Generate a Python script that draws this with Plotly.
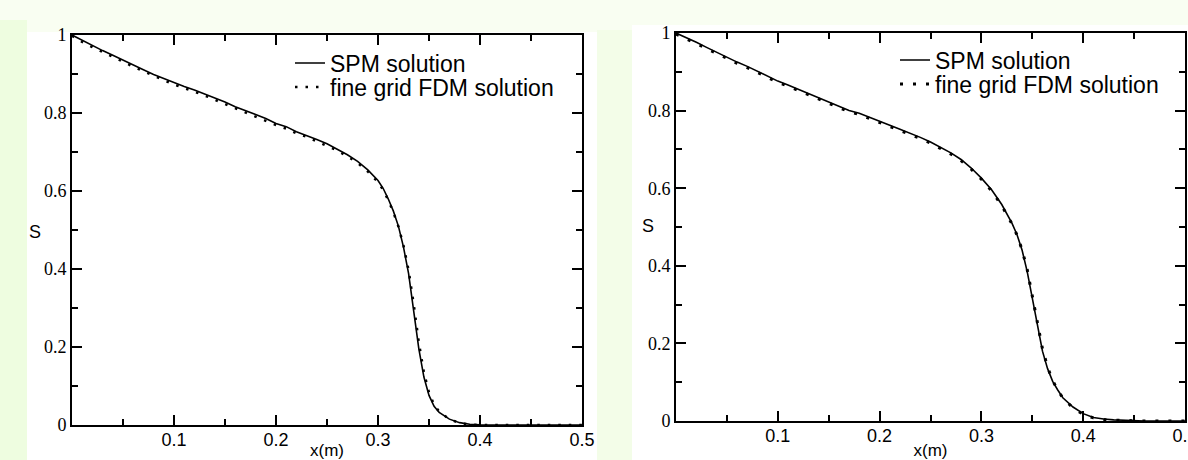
import plotly.graph_objects as go

# ---------------- data ----------------
x_left = [0.00, 0.01, 0.02, 0.03, 0.04, 0.05, 0.06, 0.07, 0.08, 0.09,
          0.10, 0.11, 0.12, 0.13, 0.14, 0.15, 0.16, 0.17, 0.18, 0.19,
          0.20, 0.21, 0.22, 0.23, 0.24, 0.25, 0.26, 0.27, 0.28, 0.29,
          0.30, 0.305, 0.31, 0.315, 0.32, 0.325, 0.33, 0.335, 0.34, 0.345,
          0.35, 0.355, 0.36, 0.37, 0.38, 0.39, 0.40, 0.42, 0.44, 0.46, 0.48, 0.50]
spm_left = [1.000, 0.986, 0.973, 0.960, 0.948, 0.935, 0.923, 0.911, 0.899, 0.888,
            0.877, 0.868, 0.859, 0.849, 0.838, 0.828, 0.816, 0.806, 0.795, 0.786,
            0.773, 0.765, 0.752, 0.743, 0.732, 0.721, 0.708, 0.693, 0.676, 0.654,
            0.627, 0.607, 0.580, 0.549, 0.510, 0.456, 0.388, 0.295, 0.196, 0.123,
            0.076, 0.048, 0.032, 0.015, 0.006, 0.002, 0.0005, 0.0, 0.0, 0.0, 0.0, 0.0]
fdm_left = [0.998, 0.982, 0.969, 0.956, 0.944, 0.931, 0.919, 0.907, 0.895, 0.884,
            0.873, 0.864, 0.855, 0.845, 0.834, 0.823, 0.812, 0.802, 0.791, 0.781,
            0.769, 0.760, 0.748, 0.739, 0.728, 0.717, 0.704, 0.689, 0.672, 0.650,
            0.623, 0.603, 0.577, 0.546, 0.509, 0.460, 0.397, 0.310, 0.212, 0.135,
            0.083, 0.052, 0.034, 0.015, 0.005, 0.001, 0.0, 0.0, 0.0, 0.0, 0.0, 0.0]

x_right = [0.00, 0.01, 0.02, 0.03, 0.04, 0.05, 0.06, 0.07, 0.08, 0.09,
           0.10, 0.11, 0.12, 0.13, 0.14, 0.15, 0.16, 0.17, 0.18, 0.19,
           0.20, 0.21, 0.22, 0.23, 0.24, 0.25, 0.26, 0.27, 0.28, 0.29,
           0.30, 0.31, 0.32, 0.33, 0.335, 0.34, 0.345, 0.35, 0.355, 0.36,
           0.365, 0.37, 0.375, 0.38, 0.39, 0.40, 0.41, 0.42, 0.43, 0.44,
           0.45, 0.46, 0.48, 0.50]
spm_right = [1.000, 0.989, 0.976, 0.963, 0.950, 0.939, 0.925, 0.914, 0.901, 0.890,
             0.876, 0.866, 0.855, 0.842, 0.831, 0.820, 0.810, 0.800, 0.793, 0.782,
             0.771, 0.762, 0.752, 0.742, 0.731, 0.719, 0.706, 0.691, 0.674, 0.652,
             0.626, 0.596, 0.558, 0.510, 0.480, 0.440, 0.385, 0.315, 0.245, 0.180,
             0.135, 0.102, 0.080, 0.060, 0.036, 0.019, 0.009, 0.005, 0.003, 0.0015,
             0.0005, 0.0, 0.0, 0.0]
fdm_right = [0.997, 0.986, 0.973, 0.960, 0.947, 0.936, 0.922, 0.911, 0.898, 0.887,
             0.873, 0.863, 0.852, 0.839, 0.828, 0.817, 0.807, 0.797, 0.790, 0.779,
             0.768, 0.759, 0.749, 0.739, 0.728, 0.716, 0.703, 0.688, 0.671, 0.649,
             0.623, 0.593, 0.555, 0.508, 0.479, 0.441, 0.390, 0.322, 0.252, 0.186,
             0.139, 0.104, 0.080, 0.059, 0.034, 0.017, 0.008, 0.004, 0.002, 0.001,
             0.0, 0.0, 0.0, 0.0]

x_tickvals = [0.1, 0.2, 0.3, 0.4, 0.5]
x_ticktext = ["0.1", "0.2", "0.3", "0.4", "0.5"]
x_minor = [0.05, 0.15, 0.25, 0.35, 0.45]
y_tickvals = [0, 0.2, 0.4, 0.6, 0.8, 1.0]
y_ticktext = ["0", "0.2", "0.4", "0.6", "0.8", "1"]
y_minor = [0.1, 0.3, 0.5, 0.7, 0.9]

name_spm = "SPM solution"
name_fdm = "fine grid FDM solution"
x_title = "x(m)"
y_title = "S"

# ---------------- layout helpers ----------------
W, H = 1188, 460
def px(x):
    return x / W
def py(y):
    return 1 - y / H

fig = go.Figure()

fig.add_trace(go.Scatter(x=x_left, y=spm_left, mode="lines", name=name_spm,
                         line=dict(color="black", width=1.6),
                         xaxis="x", yaxis="y", legend="legend"))
fig.add_trace(go.Scatter(x=x_left, y=fdm_left, mode="lines", name=name_fdm,
                         line=dict(color="black", width=2.5, dash="2.5px,8px"),
                         xaxis="x", yaxis="y", legend="legend2"))
fig.add_trace(go.Scatter(x=x_right, y=spm_right, mode="lines", name=name_spm,
                         line=dict(color="black", width=1.6),
                         xaxis="x2", yaxis="y2", legend="legend3"))
fig.add_trace(go.Scatter(x=x_right, y=fdm_right, mode="lines", name=name_fdm,
                         line=dict(color="black", width=3, dash="3px,10px"),
                         xaxis="x2", yaxis="y2", legend="legend4"))

def xaxis(domain, anchor):
    return dict(domain=domain, anchor=anchor, range=[0, 0.5], automargin=False,
                showline=True, linewidth=2, linecolor="black", mirror="ticks",
                ticks="inside", ticklen=10, tickwidth=1.5, tickcolor="black",
                tickvals=x_tickvals, ticktext=x_ticktext,
                ticklabeloverflow="allow", ticklabelstandoff=-3,
                minor=dict(ticks="inside", ticklen=6, tickwidth=1.5,
                           tickcolor="black", tickvals=x_minor),
                showgrid=False, zeroline=False,
                tickfont=dict(family="Liberation Sans", size=18, color="black"),
                title=dict(text=x_title, standoff=5,
                           font=dict(family="Liberation Sans", size=17, color="black")))

def yaxis(domain, anchor):
    return dict(domain=domain, anchor=anchor, range=[0, 1], automargin=False,
                showline=True, linewidth=2, linecolor="black", mirror="ticks",
                ticks="inside", ticklen=10, tickwidth=1.5, tickcolor="black",
                tickvals=y_tickvals, ticktext=y_ticktext,
                minor=dict(ticks="inside", ticklen=6, tickwidth=1.5,
                           tickcolor="black", tickvals=y_minor),
                showgrid=False, zeroline=False,
                tickfont=dict(family="Liberation Serif", size=18, color="black"))

leg_font = dict(family="Liberation Sans", size=23, color="black")
def legend(x, y):
    return dict(x=px(x), y=py(y), xanchor="left", yanchor="middle",
                bgcolor="rgba(0,0,0,0)", borderwidth=0, font=leg_font,
                itemwidth=30, tracegroupgap=0)

title_font = dict(family="Liberation Sans", size=18, color="black")
fig.update_layout(
    width=W, height=H,
    margin=dict(l=0, r=0, t=0, b=0, autoexpand=False),
    paper_bgcolor="#f9fef2",
    plot_bgcolor="white",
    showlegend=True,
    xaxis=xaxis([px(72), px(582)], "y"),
    yaxis=yaxis([py(425), py(35)], "x"),
    xaxis2=xaxis([px(676), px(1185)], "y2"),
    yaxis2=yaxis([py(421), py(33)], "x2"),
    legend=legend(290, 63),
    legend2=legend(290, 87),
    legend3=legend(895, 60),
    legend4=legend(895, 84),
    annotations=[
        dict(text=y_title, xref="paper", yref="paper", x=px(35), y=py(232),
             showarrow=False, font=title_font, xanchor="center", yanchor="middle"),
        dict(text=y_title, xref="paper", yref="paper", x=px(648), y=py(226),
             showarrow=False, font=title_font, xanchor="center", yanchor="middle"),
    ],
    shapes=[
        dict(type="rect", xref="paper", yref="paper", x0=0, x1=px(27), y0=0, y1=py(20),
             fillcolor="#eefde0", line=dict(width=0), layer="below"),
        dict(type="rect", xref="paper", yref="paper", x0=px(597), x1=px(632), y0=0, y1=py(30),
             fillcolor="#f3fde8", line=dict(width=0), layer="below"),
        dict(type="rect", xref="paper", yref="paper", x0=px(27), x1=px(597), y0=0, y1=py(32),
             fillcolor="white", line=dict(width=0), layer="below"),
        dict(type="rect", xref="paper", yref="paper", x0=px(632), x1=1, y0=0, y1=py(25),
             fillcolor="white", line=dict(width=0), layer="below"),
    ],
)

fig.write_html("out.html", config={"displayModeBar": False},
               post_script="document.body.style.margin='0';document.body.style.overflow='hidden';")
